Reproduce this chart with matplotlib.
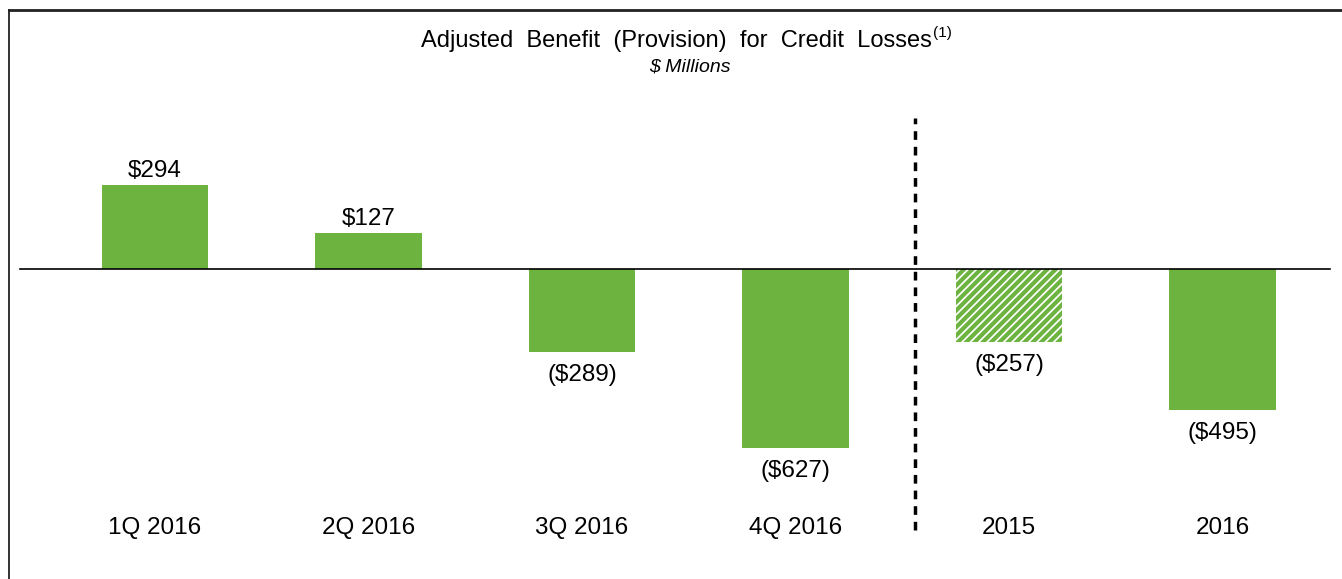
import matplotlib
matplotlib.use("Agg")
import matplotlib.pyplot as plt
from matplotlib.lines import Line2D

plt.rcParams['font.family'] = ['Liberation Sans', 'DejaVu Sans']
plt.rcParams['hatch.linewidth'] = 3.0

categories = ['1Q 2016', '2Q 2016', '3Q 2016', '4Q 2016', '2015', '2016']
values = [294, 127, -289, -627, -257, -495]
labels = ['$294', '$127', '($289)', '($627)', '($257)', '($495)']
hatched = [False, False, False, False, True, False]

green = '#6DB33F'

fig = plt.figure(figsize=(13.42, 5.79), dpi=100)
ax = fig.add_axes([0, 0, 1, 1])
ax.set_xlim(-0.726, 5.560)
ax.set_ylim(-1085, 941.5)
ax.axis('off')

for i, v in enumerate(values):
    if hatched[i]:
        ax.bar(i, v, width=0.5, color='white', edgecolor=green, hatch='////', linewidth=0)
    else:
        ax.bar(i, v, width=0.5, color=green, linewidth=0)
    if v >= 0:
        ax.text(i, v + 10, labels[i], ha='center', va='bottom', fontsize=17.5)
    else:
        ax.text(i, v - 42, labels[i], ha='center', va='top', fontsize=17.5)
    ax.text(i, -908, categories[i], ha='center', va='center', fontsize=17.5)

ax.axhline(0, xmin=20/1342, xmax=1330/1342, color='black', lw=1.2)
ax.axvline(3.56, ymin=1 - 530/579, ymax=1 - 118/579, color='black', lw=2.5,
           linestyle=(0, (2.5, 2)))

title = fig.text(421/1342, 1 - 41/579, 'Adjusted  Benefit  (Provision)  for  Credit  Losses',
                 ha='left', va='center', fontsize=17)
fig.canvas.draw()
bb = title.get_window_extent()
fig.text(bb.x1 / 1342 + 0.001, 1 - 33/579, '(1)', ha='left', va='center', fontsize=11)
fig.text(690/1342, 1 - 67/579, '$ Millions', ha='center', va='center', fontsize=14,
         style='italic')

# frame lines top and left
fig.add_artist(Line2D([9/1342, 1], [1 - 10/579, 1 - 10/579], color='#222222', lw=2))
fig.add_artist(Line2D([9/1342, 9/1342], [0, 1 - 10/579], color='#222222', lw=1.3))

fig.savefig('out.png', dpi=100)
